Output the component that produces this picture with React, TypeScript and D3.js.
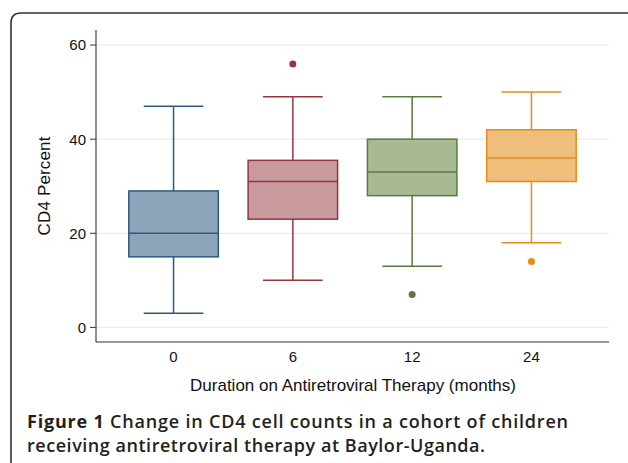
import React from "react";
import * as d3 from "d3";

const categories = ["0", "6", "12", "24"];
const whiskerLow = [3, 10, 13, 18];
const q1 = [15, 23, 28, 31];
const median = [20, 31, 33, 36];
const q3 = [29, 35.5, 40, 42];
const whiskerHigh = [47, 49, 49, 50];
const outliers: number[][] = [[], [56], [7], [14]];
const fills = ["#8da5b9", "#c8999d", "#a9b993", "#f0be7c"];
const strokes = ["#2b5a80", "#943540", "#5b7a3b", "#e98a1a"];
const yTicks = [0, 20, 40, 60];

const W = 628, H = 463;
const left = 96, right = 609, top = 30, bottom = 342;

export default function App() {
  const x = d3.scalePoint<string>().domain(categories).range([left, right]).padding(0.65);
  const step = x.step();
  const y = d3.scaleLinear().domain([-3.1, 63.2]).range([bottom, top]);
  const boxW = step * 0.75;
  const capW = step * 0.5;
  const font = "'Liberation Sans', Arial, sans-serif";
  const capFont = "'Open Sans', 'Noto Sans', sans-serif";
  return (
    <svg width={W} height={H} style={{ position: "absolute", left: 0, top: 0, background: "#fff" }}>
      <path d="M11,463 L11,23 Q11,13 21,13 L628,13" fill="none" stroke="#333" strokeWidth={1.6} />
      {yTicks.map((t) => (
        <g key={t}>
          <line x1={left} x2={right} y1={y(t)} y2={y(t)} stroke="#e6eded" strokeWidth={1.2} />
          <line x1={left - 6} x2={left} y1={y(t)} y2={y(t)} stroke="#333" strokeWidth={1} />
          <text x={left - 10} y={y(t)} dy="0.36em" textAnchor="end" fontFamily={font} fontSize={15} fill="#111">{t}</text>
        </g>
      ))}
      <line x1={left} x2={left} y1={top} y2={bottom} stroke="#444" strokeWidth={1.2} />
      <line x1={left} x2={right} y1={bottom} y2={bottom} stroke="#333" strokeWidth={1.2} />
      {categories.map((c) => (
        <text key={c} x={x(c)} y={362} textAnchor="middle" fontFamily={font} fontSize={15} fill="#111">{c}</text>
      ))}
      {categories.map((c, i) => {
        const cx = x(c)!;
        return (
          <g key={"b" + c} stroke={strokes[i]} strokeWidth={1.5}>
            <line x1={cx} x2={cx} y1={y(whiskerHigh[i])} y2={y(q3[i])} />
            <line x1={cx} x2={cx} y1={y(q1[i])} y2={y(whiskerLow[i])} />
            <line x1={cx - capW / 2} x2={cx + capW / 2} y1={y(whiskerHigh[i])} y2={y(whiskerHigh[i])} />
            <line x1={cx - capW / 2} x2={cx + capW / 2} y1={y(whiskerLow[i])} y2={y(whiskerLow[i])} />
            <rect x={cx - boxW / 2} y={y(q3[i])} width={boxW} height={y(q1[i]) - y(q3[i])} fill={fills[i]} />
            <line x1={cx - boxW / 2} x2={cx + boxW / 2} y1={y(median[i])} y2={y(median[i])} />
            {outliers[i].map((o, j) => (
              <circle key={j} cx={cx} cy={y(o)} r={3.5} fill={strokes[i]} stroke="none" />
            ))}
          </g>
        );
      })}
      <text transform={`translate(50,${(top + bottom) / 2}) rotate(-90)`} textAnchor="middle" fontFamily={font} fontSize={17} textLength={99} fill="#111">CD4 Percent</text>
      <text x={353} y={391} textAnchor="middle" fontFamily={font} fontSize={17} textLength={326} fill="#111">Duration on Antiretroviral Therapy (months)</text>
      <text x={27} y={428} fontFamily={capFont} fontSize={18} fontWeight="600" fill="#231f20" textLength={541}>
        <tspan fontWeight="bold">Figure 1</tspan> Change in CD4 cell counts in a cohort of children
      </text>
      <text x={27} y={452} fontFamily={capFont} fontSize={18} fontWeight="600" fill="#231f20" textLength={458}>
        receiving antiretroviral therapy at Baylor-Uganda.
      </text>
    </svg>
  );
}
